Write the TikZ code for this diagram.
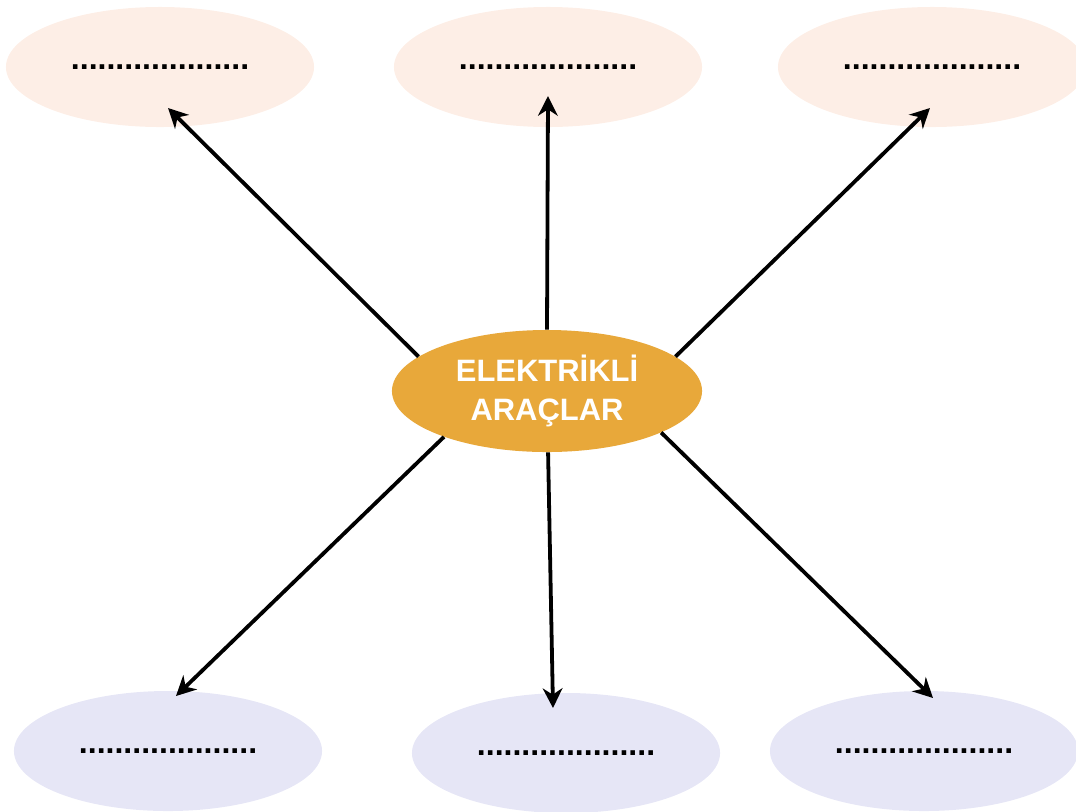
\documentclass[tikz,border=0pt]{standalone}
\usepackage{fontspec}
\setmainfont{Liberation Sans}
\usetikzlibrary{shapes.geometric,arrows.meta}
\definecolor{turuncu}{HTML}{E8A83A}
\definecolor{seftali}{HTML}{FDEEE6}
\definecolor{lila}{HTML}{E6E6F6}

\begin{document}
\begin{tikzpicture}[x=0.025cm,y=-0.025cm,
		bos/.style = {ellipse, inner sep=0pt, minimum width=7.7cm, minimum height=3cm, font=\fontsize{22.8}{24}\selectfont\bfseries},
		ok/.style = {line width=2.7pt, -{Stealth[length=14pt,width=14pt,inset=4.5pt]}}]
		\useasboundingbox (0,0) rectangle (1076,811);
		\node[bos, fill=seftali] (u1) at (160,67) {....................};
		\node[bos, fill=seftali] (u2) at (548,67) {....................};
		\node[bos, fill=seftali] (u3) at (932,67) {....................};
		\node[bos, fill=lila] (a1) at (168,751) {....................};
		\node[bos, fill=lila] (a2) at (566,753) {....................};
		\node[bos, fill=lila] (a3) at (924,751) {....................};
		\node[ellipse, fill=turuncu, inner sep=0pt, minimum width=7.75cm, minimum height=3.05cm, align=center, text=white, font=\fontsize{22}{28}\selectfont\bfseries] (merkez) at (547,391) {ELEKTRİKLİ\\ARAÇLAR};
		\coordinate (o1) at (168,108);
		\coordinate (o2) at (548,96);
		\coordinate (o3) at (930,108);
		\coordinate (o4) at (176,696);
		\coordinate (o5) at (553,708);
		\coordinate (o6) at (933,698);
		\draw[ok] (merkez.165) -- (o1);
		\draw[ok] (merkez.90) -- (o2);
		\draw[ok] (merkez.15) -- (o3);
		\draw[ok] (merkez.204) -- (o4);
		\draw[ok] (merkez.271) -- (o5);
		\draw[ok] (merkez.340) -- (o6);
	\end{tikzpicture}
\end{document}
